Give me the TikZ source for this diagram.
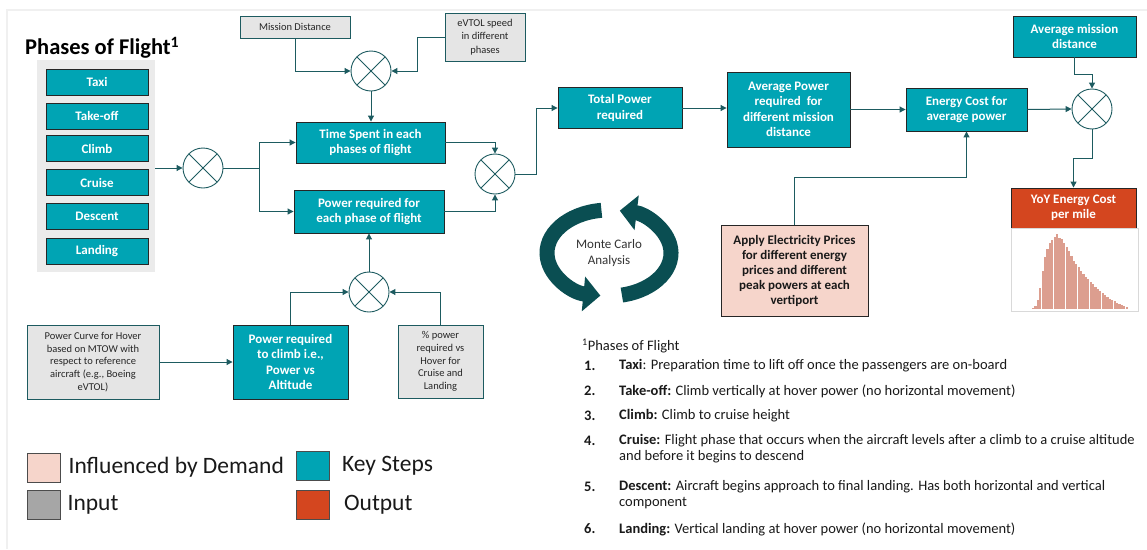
\documentclass[tikz,border=0pt]{standalone}
\usepackage{fontspec}
\setmainfont{Carlito}
\usepackage{tikz}
\usetikzlibrary{arrows.meta,positioning,calc}
\definecolor{KeyTeal}{HTML}{00A4B4}
\definecolor{LineTeal}{HTML}{1D5B60}
\definecolor{InputGray}{HTML}{E5E5E5}
\definecolor{DemandPink}{HTML}{F6D5CB}
\definecolor{OutRed}{HTML}{D4461F}
\definecolor{McTeal}{HTML}{0A4E52}
\definecolor{HistBar}{HTML}{DC9E8F}
\definecolor{PanelGray}{HTML}{EBEBEB}
\definecolor{LegendGray}{HTML}{A6A6A6}
\definecolor{FrameGray}{HTML}{F0F0F0}

\begin{document}
\begin{tikzpicture}[x=1pt, y=-1pt,
	keybox/.style={draw=black!85, line width=0.9pt, fill=KeyTeal, text=white, align=center, inner sep=1pt, font=\bfseries\fontsize{13}{15.5}\selectfont},
	phasebox/.style={keybox, minimum width=102pt, minimum height=26pt},
	inputbox/.style={draw=LineTeal, line width=0.9pt, fill=InputGray, align=center, inner sep=1pt, text=black!85, font=\fontsize{10.5}{13.5}\selectfont},
	mult/.style={circle, draw=LineTeal, line width=0.9pt, minimum size=40pt, inner sep=0pt, fill=white,
		path picture={\draw[LineTeal, line width=0.9pt] (path picture bounding box.north west) -- (path picture bounding box.south east)
			(path picture bounding box.north east) -- (path picture bounding box.south west);}},
	arrow/.style={-{Triangle[length=6pt,width=6pt]}, LineTeal, line width=1pt},
	link/.style={LineTeal, line width=1pt},
	legendbox/.style={draw=black!70, line width=0.8pt, minimum width=33pt, minimum height=29pt, inner sep=0pt},
	legendtext/.style={inner sep=0pt, text=black!90, font=\fontsize{23.5}{26}\selectfont},
	note/.style={inner sep=0pt, anchor=west, align=left, text=black!90, font=\fontsize{14.5}{16}\selectfont},
	mcarrow/.style={line width=15pt, McTeal, -{Triangle[length=17pt,width=34pt]}}
]
\useasboundingbox (0,0) rectangle (1147,549);
\draw[FrameGray, line width=1.5pt] (7,549) |- (1147,10);

% phases of flight
\node[anchor=west, inner sep=0pt, font=\bfseries\fontsize{22.5}{24}\selectfont] (title) at (25,48) {Phases of Flight\textsuperscript{1}};
\node[fill=PanelGray, minimum width=118pt, minimum height=212pt, inner sep=0pt] (panel) at (96,166) {};
\node[phasebox] (taxi) at (97,82) {Taxi};
\node[phasebox] (takeoff) at (97,116) {Take-off};
\node[phasebox] (climb) at (97,148.5) {Climb};
\node[phasebox] (cruise) at (97,182.5) {Cruise};
\node[phasebox] (descent) at (97,216) {Descent};
\node[phasebox] (landing) at (97,251) {Landing};

% multipliers
\node[mult] (mult1) at (203,168) {};
\node[mult] (mult2) at (371,71) {};
\node[mult] (mult3) at (495,174) {};
\node[mult] (mult4) at (1092,109) {};
\node[mult] (mult5) at (369,292) {};

% key steps
\node[keybox, minimum width=149pt, minimum height=41pt] (timespent) at (370.5,142.5) {Time Spent in each\\phases of flight};
\node[keybox, minimum width=150pt, minimum height=43pt] (powerphase) at (369,211.5) {Power required for\\each phase of flight};
\node[keybox, minimum width=124pt, minimum height=41pt] (totalpower) at (620,108) {Total Power\\required};
\node[keybox, minimum width=123pt, minimum height=75pt] (avgpower) at (788.5,109.5) {Average Power\\required~ for\\different mission\\distance};
\node[keybox, minimum width=121pt, minimum height=43pt] (energy) at (966.5,109.5) {Energy Cost for\\average power};
\node[keybox, minimum width=123pt, minimum height=41pt] (avgmission) at (1074.5,36.5) {Average mission\\distance};
\node[keybox, minimum width=115pt, minimum height=74pt] (climbpower) at (290.5,362) {Power required\\to climb i.e.,\\Power vs\\Altitude};

% inputs
\node[inputbox, minimum width=110pt, minimum height=22pt] (mission) at (295,27) {Mission Distance};
\node[inputbox, minimum width=80pt, minimum height=48pt] (evtol) at (485,37) {eVTOL speed\\in different\\phases};
\node[inputbox, minimum width=132pt, minimum height=74pt, font=\fontsize{10.5}{12.8}\selectfont] (powercurve) at (93,362) {Power Curve for Hover\\based on MTOW with\\respect to reference\\aircraft (e.g., Boeing\\eVTOL)};
\node[inputbox, minimum width=85pt, minimum height=73pt, font=\fontsize{10.5}{12.8}\selectfont] (pctpower) at (440.5,361.5) {\% power\\required vs\\Hover for\\Cruise and\\Landing};

% demand and output
\node[keybox, fill=DemandPink, text=black!90, minimum width=147pt, minimum height=91pt, font=\bfseries\fontsize{13}{15}\selectfont] (elec) at (794.5,270.5) {Apply Electricity Prices\\for different energy\\prices and different\\peak powers at each\\vertiport};
\node[keybox, fill=OutRed, minimum width=125pt, minimum height=40pt] (yoy) at (1073.5,208) {YoY Energy Cost\\per mile};
\node[draw=black!15, line width=0.8pt, fill=white, minimum width=127pt, minimum height=83pt, inner sep=0pt] (hist) at (1074.5,269.5) {};
\foreach \h [count=\i] in {1,3,9,21,38,52,60,66,69,72,75,71,70,66,62,58,53,48,45,42,38,35,32,30,27,25,22,20,18,16,14,12,10,9,8,6,5,4,3,2}
	\fill[HistBar] ({1032+(\i-1)*2.4},309) rectangle ++(2.2,-\h);

% monte carlo
\node[align=center, text=black!80, font=\fontsize{13}{16}\selectfont] (mc) at (609,253) {Monte Carlo\\Analysis};
\draw[mcarrow] ($(mc.center)+({62*cos(-97)},{43*sin(-97)})$) arc[start angle=-97, end angle=-262, x radius=62, y radius=43];
\draw[mcarrow] ($(mc.center)+({62*cos(-282)},{43*sin(-282)})$) arc[start angle=-282, end angle=-440, x radius=62, y radius=43];

% connectors
\draw[arrow] (panel.east |- mult1.west) -- (mult1.west);
\draw[link] (mult1.east) -- ++(36,0) coordinate (split);
\draw[arrow] (split) |- (timespent.west);
\draw[arrow] (split) |- (powerphase.west);
\draw[arrow] (mission.south) |- (mult2.west);
\draw[arrow] (evtol.west) -- ++(-27,0) |- (mult2.east);
\draw[arrow] (mult2.south) -- (mult2 |- timespent.north);
\draw[arrow] (timespent.east) -| (mult3.north);
\draw[arrow] (powerphase.east) -| (mult3.south);
\draw[arrow] (mult3.east) -- ++(21,0) |- (totalpower.west);
\draw[arrow] (totalpower.east) -- (totalpower.east -| avgpower.west);
\draw[arrow] (avgpower.east) -- (energy.west);
\draw[arrow] (energy.east) -- (mult4.west);
\draw[arrow] (avgmission.south) -- ++(0,17) -| (mult4.north);
\draw[arrow] (mult4.south) -- ++(0,29) -| (yoy.north);
\draw[arrow] (elec.north) -- ++(0,-47) -| (energy.south);
\draw[arrow] (powercurve.east) -- (climbpower.west);
\draw[arrow] (climbpower.north) |- (mult5.west);
\draw[arrow] (pctpower.north) |- (mult5.east);
\draw[arrow] (mult5.north) -- (mult5 |- powerphase.south);

% legend
\node[legendbox, fill=DemandPink] (legdemand) at (43.5,467.5) {};
\node[legendtext, right=8pt of legdemand] (legdemandtext) {Influenced by Demand};
\node[legendbox, fill=LegendGray] (leginput) at (43.5,505) {};
\node[legendtext, right=7pt of leginput] (leginputtext) {Input};
\node[legendbox, fill=KeyTeal] (legkey) at (313,465.5) {};
\node[legendtext, right=12pt of legkey] (legkeytext) {Key Steps};
\node[legendbox, fill=OutRed] (legout) at (313,505) {};
\node[legendtext, right=14pt of legout] (legouttext) {Output};

% footnote
\node[note] (fnhead) at (582,346) {\textsuperscript{1}Phases of Flight};
\node[note, font=\bfseries\fontsize{14.5}{16}\selectfont] (num1) at (584,366) {1.};
\node[note, font=\bfseries\fontsize{14.5}{16}\selectfont] (num2) at (584,391) {2.};
\node[note, font=\bfseries\fontsize{14.5}{16}\selectfont] (num3) at (584,416) {3.};
\node[note, font=\bfseries\fontsize{14.5}{16}\selectfont] (num4) at (584,441) {4.};
\node[note, font=\bfseries\fontsize{14.5}{16}\selectfont] (num5) at (584,487) {5.};
\node[note, font=\bfseries\fontsize{14.5}{16}\selectfont] (num6) at (584,529) {6.};
\node[note] (fn1) at (619,366) {\textbf{Taxi}: Preparation time to lift off once the passengers are on-board};
\node[note] (fn2) at (619,391) {\textbf{Take-off:} Climb vertically at hover power (no horizontal movement)};
\node[note] (fn3) at (619,416) {\textbf{Climb:} Climb to cruise height};
\node[note] (fn4) at (619,449) {\textbf{Cruise:} Flight phase that occurs when the aircraft levels after a climb to a cruise altitude\\and before it begins to descend};
\node[note] (fn5) at (619,495) {\textbf{Descent:} Aircraft begins approach to final landing. Has both horizontal and vertical\\component};
\node[note] (fn6) at (619,529) {\textbf{Landing:} Vertical landing at hover power (no horizontal movement)};
\end{tikzpicture}
\end{document}
